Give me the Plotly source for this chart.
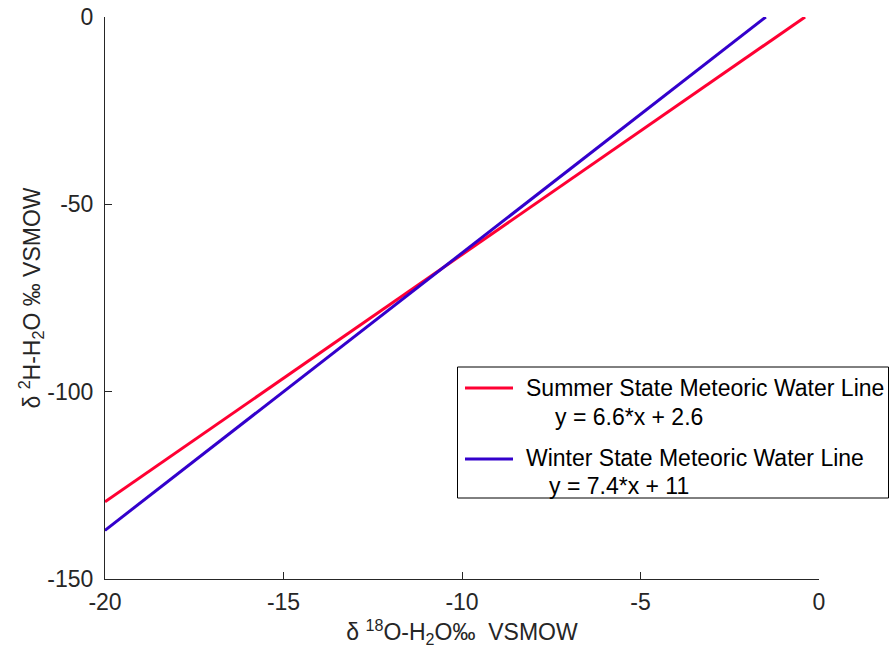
import plotly.graph_objects as go

# Data (line end points)
summer_x = [-20.0, -0.39]
summer_y = [-129.4, 0.0]
winter_x = [-20.0, -1.49]
winter_y = [-137.0, 0.0]

x_ticks = [-20, -15, -10, -5, 0]
y_ticks = [-150, -100, -50, 0]

summer_name = "Summer State Meteoric Water Line"
summer_eq = "y = 6.6*x + 2.6"
winter_name = "Winter State Meteoric Water Line"
winter_eq = "y = 7.4*x + 11"

RED = "rgb(255,0,51)"
BLUE = "rgb(51,0,204)"
AX = "#262626"
FONT = "Liberation Sans, Arial, Helvetica, sans-serif"

W, H = 889, 651
L, R, T, B = 105, 70, 17, 72
PW, PH = W - L - R, H - T - B

def px(xp):
    return (xp - L) / PW

def py(yp):
    return (H - B - yp) / PH

fig = go.Figure()
fig.add_trace(go.Scatter(x=summer_x, y=summer_y, mode="lines",
                         line=dict(color=RED, width=3), name=summer_name,
                         showlegend=False))
fig.add_trace(go.Scatter(x=winter_x, y=winter_y, mode="lines",
                         line=dict(color=BLUE, width=3), name=winter_name,
                         showlegend=False))

axis_common = dict(showline=True, linecolor=AX, linewidth=1, ticks="inside",
                   ticklen=7, tickcolor=AX, tickwidth=1, showgrid=False,
                   zeroline=False, mirror=False, automargin=False,
                   tickfont=dict(family=FONT, size=23, color=AX))

fig.update_xaxes(range=[-20, 0], tickvals=x_ticks, ticktext=[str(v) for v in x_ticks],
                 title=dict(text="δ <sup>18</sup>O-H<sub>2</sub>O‰  VSMOW",
                            font=dict(family=FONT, size=23, color=AX), standoff=10),
                 ticklabelstandoff=2,
                 **axis_common)
fig.update_yaxes(range=[-150, 0], tickvals=y_ticks, ticktext=[str(v) for v in y_ticks],
                 title=dict(text="δ <sup>2</sup>H-H<sub>2</sub>O ‰ VSMOW",
                            font=dict(family=FONT, size=23, color=AX), standoff=0),
                 ticklabelstandoff=6,
                 **axis_common)

# Legend box drawn manually (MATLAB-style)
shapes = [
    dict(type="rect", xref="paper", yref="paper", x0=px(457.5), x1=px(888.5),
         y0=py(498), y1=py(367), line=dict(color="#000000", width=1),
         fillcolor="white", layer="above"),
    dict(type="line", xref="paper", yref="paper", x0=px(465), x1=px(513),
         y0=py(388), y1=py(388), line=dict(color=RED, width=3)),
    dict(type="line", xref="paper", yref="paper", x0=px(465), x1=px(513),
         y0=py(459), y1=py(459), line=dict(color=BLUE, width=3)),
]
ann_font = dict(family=FONT, size=23, color="#000000")
annotations = [
    dict(text=summer_name, x=px(524), y=py(388), xref="paper", yref="paper",
         xanchor="left", yanchor="middle", showarrow=False, font=ann_font),
    dict(text=summer_eq, x=px(553), y=py(417), xref="paper", yref="paper",
         xanchor="left", yanchor="middle", showarrow=False, font=ann_font),
    dict(text=winter_name, x=px(524), y=py(458), xref="paper", yref="paper",
         xanchor="left", yanchor="middle", showarrow=False, font=ann_font),
    dict(text=winter_eq, x=px(547), y=py(486), xref="paper", yref="paper",
         xanchor="left", yanchor="middle", showarrow=False, font=ann_font),
]

fig.update_layout(width=W, height=H, margin=dict(l=L, r=R, t=T, b=B),
                  plot_bgcolor="white", paper_bgcolor="white",
                  shapes=shapes, annotations=annotations,
                  font=dict(family=FONT, color=AX), showlegend=False)

fig.write_html("out.html")
